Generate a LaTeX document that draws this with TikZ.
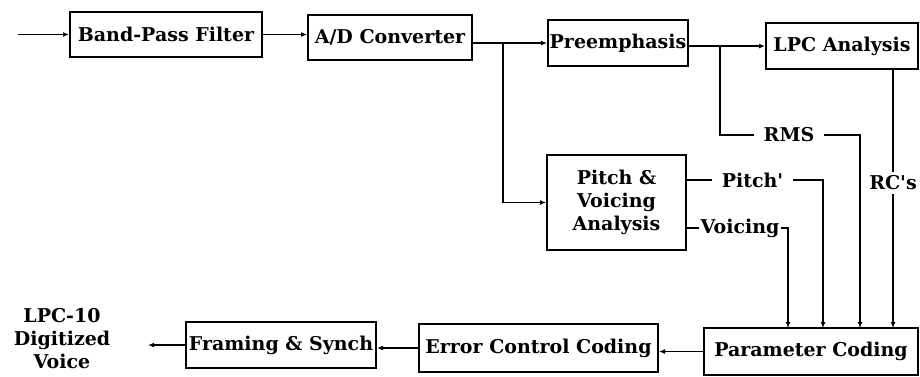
\documentclass[tikz,border=0pt]{standalone}
\usepackage{fontspec}
\setmainfont{DejaVu Serif}
\usetikzlibrary{arrows.meta,calc}
\begin{document}
\begin{tikzpicture}[x=1pt,y=-1pt,
  font=\fontsize{19}{23}\selectfont\bfseries,
  blk/.style={draw,line width=2pt,inner sep=0pt,align=center},
  lbl/.style={inner xsep=10pt,inner ysep=3pt},
  conn/.style={line width=1.6pt},
  arr/.style={conn,-{Latex[length=6pt,width=5pt]}}]
\useasboundingbox (0,0) rectangle (920,376);
% blocks
\node[blk,minimum width=192pt,minimum height=45pt] (bpf) at (166,34.5) {Band-Pass Filter};
\node[blk,minimum width=164pt,minimum height=45pt] (ad) at (390,37.5) {A/D Converter};
\node[blk,minimum width=140pt,minimum height=46pt] (pre) at (618,43) {Preemphasis};
\node[blk,minimum width=152pt,minimum height=46pt] (lpc) at (842,46) {LPC Analysis};
\node[blk,minimum width=139pt,minimum height=95pt] (pitch) at (616.5,202.5) {Pitch \&\\Voicing\\Analysis};
\node[blk,minimum width=214pt,minimum height=47pt] (param) at (811,351.5) {Parameter Coding};
\node[blk,minimum width=239pt,minimum height=48pt] (ecc) at (538.5,348) {Error Control Coding};
\node[blk,minimum width=190pt,minimum height=46pt] (fs) at (281,345) {Framing \& Synch};
\node[align=center,inner sep=0pt] (out) at (62,339) {LPC-10\\Digitized\\Voice};
% labels
\node[lbl] (rms) at (789,135) {RMS};
\node[lbl,inner xsep=0pt,inner ysep=4pt] (rc) at (893,183) {RC\textquotesingle s};
\node[lbl] (pl) at (752.5,180) {Pitch\textquotesingle};
\node[lbl,inner xsep=1pt] (vl) at (740,228) {Voicing};
% coordinates
\coordinate (in) at (18,34.5);
\coordinate (b1) at (503,43);
\coordinate (b2) at (720,46);
\coordinate (t1) at (788,328);
\coordinate (t2) at (823,328);
\coordinate (t3) at (860,328);
\coordinate (t4) at (893,328);
\coordinate (o1) at (148,345);
% connectors
\draw[arr] (in) -- (bpf.west);
\draw[arr] (bpf.east) -- (bpf.east -| ad.west);
\draw[arr] (pre.west -| ad.east) -- (pre.west);
\draw[arr] (b1) |- (pitch.west);
\draw[arr] (pre.east |- b2) -- (b2 -| lpc.west);
\draw[conn] (b2) |- (rms.west);
\draw[arr] (rms.east) -| (t3);
\draw[conn] (rc |- lpc.south) -- (rc.north);
\draw[arr] (rc.south) -- (t4);
\draw[conn] (pitch.east |- pl.west) -- (pl.west);
\draw[arr] (pl.east) -| (t2);
\draw[conn] (pitch.east |- vl.west) -- (vl.west);
\draw[arr] (vl.east) -| (t1);
\draw[arr] (param.west) -- (param.west -| ecc.east);
\draw[arr] (ecc.west) -- (ecc.west -| fs.east);
\draw[arr] (fs.west) -- (o1);
\end{tikzpicture}
\end{document}
